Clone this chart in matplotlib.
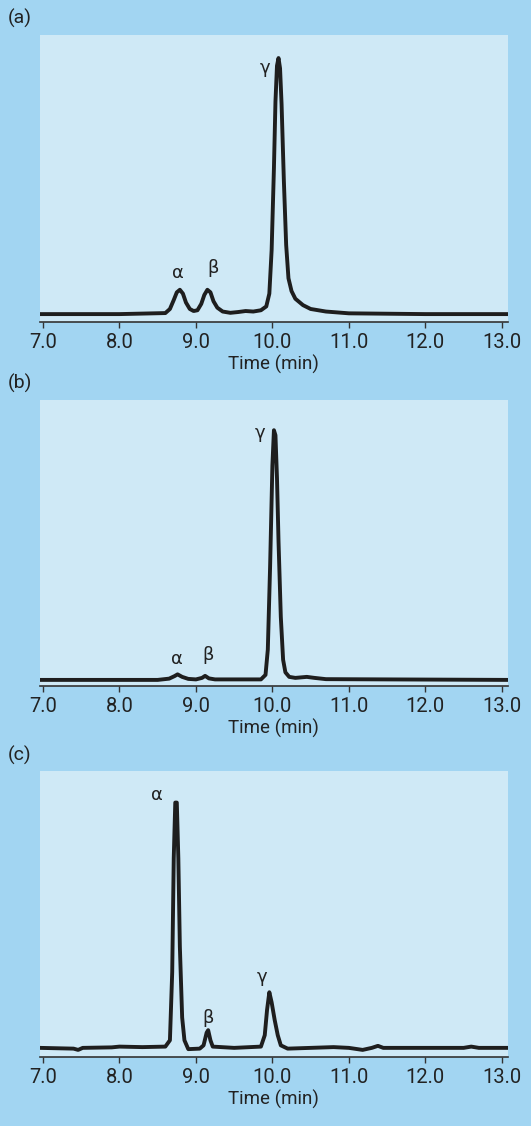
import matplotlib
matplotlib.use("Agg")
from matplotlib import pyplot as plt

# chromatogram traces (time in min, relative signal)
time_a = [6.96, 8.0, 8.6, 8.66, 8.71, 8.75, 8.79, 8.83, 8.87, 8.92, 8.97, 9.02, 9.07, 9.11, 9.15,
          9.19, 9.23, 9.28, 9.35, 9.45, 9.55, 9.65, 9.75, 9.85, 9.92, 9.96, 9.99, 10.02, 10.04,
          10.06, 10.08, 10.10, 10.12, 10.15, 10.18, 10.21, 10.25, 10.3, 10.4, 10.5, 10.7, 11.0,
          12.0, 13.08]
sig_a = [0.0, 0.0, 0.004, 0.02, 0.055, 0.085, 0.095, 0.08, 0.045, 0.02, 0.012, 0.015, 0.04, 0.075, 0.095,
         0.085, 0.05, 0.025, 0.01, 0.005, 0.008, 0.012, 0.01, 0.015, 0.03, 0.08, 0.25, 0.57, 0.83,
         0.97, 1.0, 0.96, 0.82, 0.52, 0.27, 0.14, 0.09, 0.06, 0.035, 0.02, 0.01, 0.003,
         0.0, 0.0]

time_b = [6.96, 8.5, 8.65, 8.72, 8.76, 8.82, 8.9, 9.0, 9.08, 9.12, 9.17, 9.25, 9.85, 9.91, 9.94,
          9.97, 10.0, 10.02, 10.04, 10.06, 10.08, 10.11, 10.14, 10.17, 10.22, 10.3, 10.45, 10.55,
          10.7, 13.08]
sig_b = [0.0, 0.0, 0.005, 0.015, 0.022, 0.012, 0.004, 0.002, 0.008, 0.016, 0.006, 0.002, 0.002, 0.02, 0.12,
         0.45, 0.85, 0.99, 0.97, 0.8, 0.55, 0.25, 0.08, 0.03, 0.012, 0.008, 0.012, 0.008,
         0.003, 0.0]

time_c = [6.96, 7.4, 7.46, 7.52, 7.9, 8.0, 8.3, 8.6, 8.66, 8.69, 8.71, 8.73, 8.75, 8.77, 8.79,
          8.82, 8.85, 8.9, 9.05, 9.1, 9.14, 9.16, 9.19, 9.22, 9.5, 9.85, 9.9, 9.93, 9.96, 9.99,
          10.03, 10.07, 10.11, 10.2, 10.8, 11.0, 11.18, 11.3, 11.38, 11.45, 12.5, 12.6, 12.7, 13.08]
sig_c = [0.0, -0.003, -0.008, 0.0, 0.002, 0.005, 0.003, 0.005, 0.03, 0.3, 0.75, 0.97, 0.97, 0.75, 0.4,
         0.12, 0.03, -0.005, -0.003, 0.01, 0.06, 0.07, 0.03, 0.005, 0.0, 0.005, 0.05, 0.15, 0.22, 0.18,
         0.11, 0.05, 0.01, -0.003, 0.003, 0.0, -0.008, 0.0, 0.008, 0.0, 0.0, 0.005, 0.0, 0.0]

ticks = [7.0, 8.0, 9.0, 10.0, 11.0, 12.0, 13.0]
tick_labels = ["7.0", "8.0", "9.0", "10.0", "11.0", "12.0", "13.0"]

# peak labels: (text, time, height)
labels_a = [("α", 8.76, 0.16), ("β", 9.22, 0.18), ("γ", 9.9, 0.96)]
labels_b = [("α", 8.75, 0.083), ("β", 9.16, 0.1), ("γ", 9.84, 0.98)]
labels_c = [("α", 8.49, 1.0), ("β", 9.16, 0.12), ("γ", 9.86, 0.28)]

outer = "#a2d5f2"
inner = "#cfe9f6"
ink = "#1e1e1e"
sans = ["Roboto", "DejaVu Sans"]

fig = plt.figure(figsize=(5.31, 11.26), dpi=100)
fig.patch.set_facecolor(outer)

panels = [
    ("(a)", time_a, sig_a, labels_a, [0.0753, 0.714, 0.881, 0.2549], (-0.031, 1.09), 18),
    ("(b)", time_b, sig_b, labels_b, [0.0753, 0.3908, 0.881, 0.254], (-0.024, 1.11), 383),
    ("(c)", time_c, sig_c, labels_c, [0.0753, 0.0613, 0.881, 0.254], (-0.036, 1.095), 755),
]

for name, t, s, labs, rect, ylim, ly in panels:
    ax = fig.add_axes(rect)
    ax.set_facecolor(inner)
    ax.plot(t, s, color=ink, lw=2.8, solid_joinstyle="round")
    ax.set_xlim(6.961, 13.078)
    ax.set_ylim(*ylim)
    for sp in ["top", "left", "right"]:
        ax.spines[sp].set_visible(False)
    ax.spines["bottom"].set_color("#333333")
    ax.spines["bottom"].set_linewidth(1.2)
    ax.set_yticks([])
    ax.set_xticks(ticks)
    ax.set_xticklabels(tick_labels, family=sans, fontsize=14.5, color="#222222")
    ax.tick_params(axis="x", direction="out", length=4, width=1, color="#333333", pad=4)
    ax.set_xlabel("Time (min)", family=sans, fontsize=13.5, color="#222222", labelpad=2)
    for txt, x, y in labs:
        ax.text(x, y, txt, family=["DejaVu Sans"], fontsize=13, color="#222222",
                ha="center", va="center")
    fig.text(20 / 531, 1 - ly / 1126, name, family=sans, fontsize=14, color="#222222",
             ha="center", va="center")

fig.savefig("out.png", dpi=100, facecolor=outer)
